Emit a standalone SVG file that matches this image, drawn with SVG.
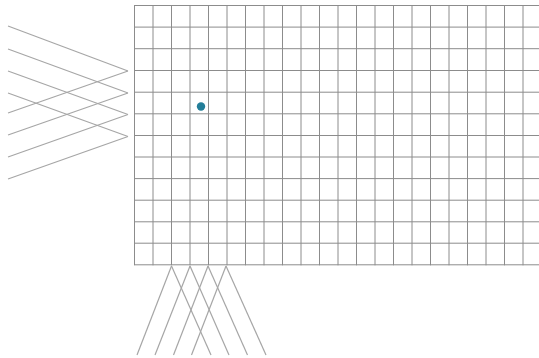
<svg xmlns="http://www.w3.org/2000/svg" width="539" height="358" viewBox="0 0 539 358">
<style>
.grid line{stroke:#8c8c8c;stroke-width:1;}
.conn line{stroke:#a6a6a6;stroke-width:1.2;}
</style>
<rect width="539" height="358" fill="#ffffff"/>
<g id="grid" class="grid">
<line x1="134.5" y1="5.5" x2="539" y2="5.5"/>
<line x1="134.5" y1="27.1" x2="539" y2="27.1"/>
<line x1="134.5" y1="48.7" x2="539" y2="48.7"/>
<line x1="134.5" y1="70.5" x2="539" y2="70.5"/>
<line x1="134.5" y1="92.2" x2="539" y2="92.2"/>
<line x1="134.5" y1="113.8" x2="539" y2="113.8"/>
<line x1="134.5" y1="135.5" x2="539" y2="135.5"/>
<line x1="134.5" y1="157" x2="539" y2="157"/>
<line x1="134.5" y1="178.6" x2="539" y2="178.6"/>
<line x1="134.5" y1="200.2" x2="539" y2="200.2"/>
<line x1="134.5" y1="221.8" x2="539" y2="221.8"/>
<line x1="134.5" y1="243.2" x2="539" y2="243.2"/>
<line x1="134.5" y1="264.8" x2="539" y2="264.8"/>
<line x1="134.5" y1="5" x2="134.5" y2="265.3"/>
<line x1="153" y1="5" x2="153" y2="265.3"/>
<line x1="171.5" y1="5" x2="171.5" y2="265.3"/>
<line x1="190" y1="5" x2="190" y2="265.3"/>
<line x1="208.5" y1="5" x2="208.5" y2="265.3"/>
<line x1="227" y1="5" x2="227" y2="265.3"/>
<line x1="245.5" y1="5" x2="245.5" y2="265.3"/>
<line x1="264" y1="5" x2="264" y2="265.3"/>
<line x1="282.5" y1="5" x2="282.5" y2="265.3"/>
<line x1="301" y1="5" x2="301" y2="265.3"/>
<line x1="319.5" y1="5" x2="319.5" y2="265.3"/>
<line x1="338" y1="5" x2="338" y2="265.3"/>
<line x1="356.5" y1="5" x2="356.5" y2="265.3"/>
<line x1="375" y1="5" x2="375" y2="265.3"/>
<line x1="393.5" y1="5" x2="393.5" y2="265.3"/>
<line x1="412" y1="5" x2="412" y2="265.3"/>
<line x1="430.5" y1="5" x2="430.5" y2="265.3"/>
<line x1="449" y1="5" x2="449" y2="265.3"/>
<line x1="467.5" y1="5" x2="467.5" y2="265.3"/>
<line x1="486" y1="5" x2="486" y2="265.3"/>
<line x1="504.5" y1="5" x2="504.5" y2="265.3"/>
<line x1="523" y1="5" x2="523" y2="265.3"/>
</g>
<g id="dot">
<circle cx="201" cy="106.5" r="4.2" fill="#237e99"/>
</g>
<g id="connectors" class="conn">
<line x1="8" y1="26" x2="128" y2="71"/>
<line x1="8" y1="49" x2="128" y2="93"/>
<line x1="8" y1="71" x2="128" y2="114.5"/>
<line x1="8" y1="93" x2="128" y2="136.5"/>
<line x1="8" y1="113" x2="128" y2="71"/>
<line x1="8" y1="135" x2="128" y2="93"/>
<line x1="8" y1="157" x2="128" y2="114.5"/>
<line x1="8" y1="179" x2="128" y2="136.5"/>
<line x1="171.5" y1="266" x2="137" y2="355"/>
<line x1="171.5" y1="266" x2="211" y2="355"/>
<line x1="190" y1="266" x2="155" y2="355"/>
<line x1="190" y1="266" x2="229" y2="355"/>
<line x1="208" y1="266" x2="173.5" y2="355"/>
<line x1="208" y1="266" x2="247.5" y2="355"/>
<line x1="226" y1="266" x2="191.5" y2="355"/>
<line x1="226" y1="266" x2="266" y2="355"/>
</g>
</svg>
